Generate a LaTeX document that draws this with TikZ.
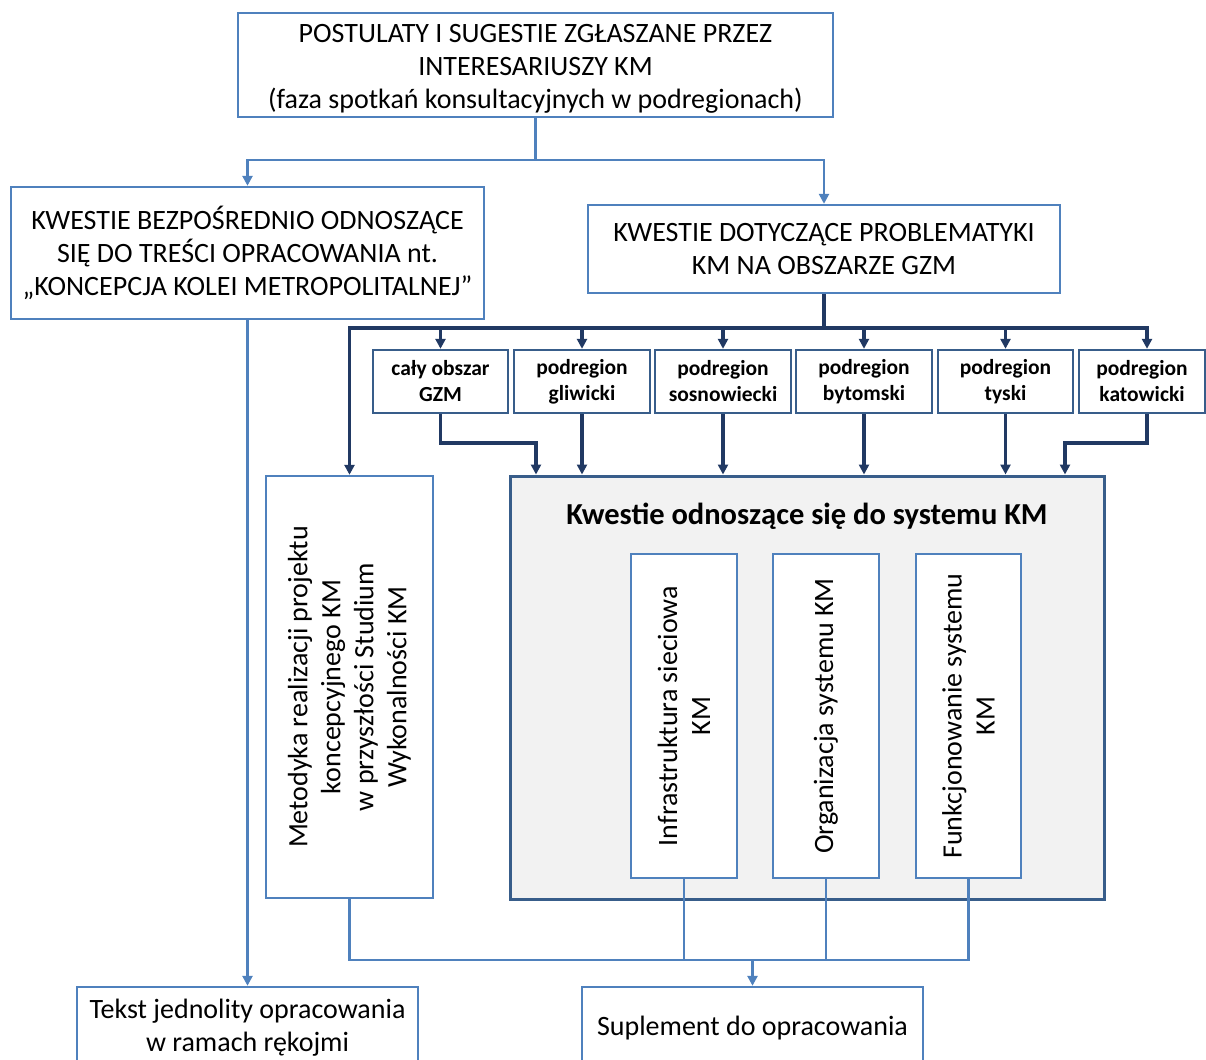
\documentclass[tikz,border=0pt]{standalone}
\usepackage{fontspec}
\setmainfont{Carlito}
\usetikzlibrary{arrows.meta,calc}
\definecolor{lineblue}{RGB}{79,129,189}
\definecolor{navy}{RGB}{33,57,99}
\definecolor{frameblue}{RGB}{56,93,138}
\definecolor{panelgray}{RGB}{242,242,242}
\tikzset{
  x=1pt, y=-1pt,
  mainbox/.style={draw=lineblue, line width=2.4pt, fill=white, inner sep=0pt, align=center,
    font=\fontsize{28}{33}\selectfont},
  regbox/.style={draw=frameblue, line width=2.4pt, fill=white, inner sep=0pt, align=center,
    minimum height=63pt, font=\bfseries\fontsize{21.5}{26}\selectfont},
  vbox/.style={mainbox, rotate=90},
  lightline/.style={draw=lineblue, line width=2.6pt},
  darkline/.style={draw=navy, line width=3.2pt},
  tip/.style={-{Triangle[length=10pt,width=10pt]}},
}
\begin{document}
\begin{tikzpicture}
\useasboundingbox (0,0) rectangle (1206,1059);
\clip (0,0) rectangle (1206,1059);

% upper level
\node[mainbox, minimum width=595pt, minimum height=104pt] (top) at (535.5,65)
  {\rule{0pt}{26pt}POSTULATY I SUGESTIE ZGŁASZANE PRZEZ\\INTERESARIUSZY KM\\(faza spotkań konsultacyjnych w podregionach)};
\node[mainbox, minimum width=473pt, minimum height=132pt] (direct) at (247.5,253)
  {KWESTIE BEZPOŚREDNIO ODNOSZĄCE\\SIĘ DO TREŚCI OPRACOWANIA nt.\\„KONCEPCJA KOLEI METROPOLITALNEJ”};
\node[mainbox, minimum width=472pt, minimum height=88pt] (area) at (824,249)
  {KWESTIE DOTYCZĄCE PROBLEMATYKI\\KM NA OBSZARZE GZM};

% subregions
\node[regbox, minimum width=135pt] (r1) at (440.5,381.5) {cały obszar\\GZM};
\node[regbox, minimum width=136pt] (r2) at (582,381.5) {podregion\\gliwicki};
\node[regbox, minimum width=136pt] (r3) at (723,381.5) {podregion\\sosnowiecki};
\node[regbox, minimum width=136pt] (r4) at (864,381.5) {podregion\\bytomski};
\node[regbox, minimum width=135pt] (r5) at (1005.5,381.5) {podregion\\tyski};
\node[regbox, minimum width=126pt] (r6) at (1142,381.5) {podregion\\katowicki};

% method box and system panel
\node[vbox, minimum width=422pt, minimum height=167pt] (method) at (349.5,687)
  {Metodyka realizacji projektu\\koncepcyjnego KM\\w przyszłości Studium\\Wykonalności KM};
\node[draw=frameblue, line width=3pt, fill=panelgray, minimum width=594pt, minimum height=423pt, inner sep=0pt]
  (panel) at (807,687.5) {};
\node[font=\bfseries\fontsize{30.5}{34}\selectfont] (ptitle) at (807,516) {Kwestie odnoszące się do systemu KM};
\node[vbox, minimum width=324pt, minimum height=106pt] (infra) at (684,716) {Infrastruktura sieciowa\\KM};
\node[vbox, minimum width=324pt, minimum height=106pt] (org) at (826,716) {Organizacja systemu KM};
\node[vbox, minimum width=324pt, minimum height=105pt] (func) at (968.5,716) {Funkcjonowanie systemu\\KM};

% results
\node[mainbox, minimum width=341pt, minimum height=82pt] (text) at (247.5,1028)
  {Tekst jednolity opracowania\\w ramach rękojmi};
\node[mainbox, minimum width=341pt, minimum height=82pt] (supp) at (752.5,1028)
  {Suplement do opracowania};

% split below the top box
\coordinate (split) at (top.south |- 0,160);
\draw[lightline] (top.south) -- (split);
\draw[lightline, tip] (split) -| (direct.north);
\draw[lightline, tip] (split) -| (area.north);

% distribution to subregions
\coordinate (hub) at (area.south |- 0,328);
\draw[darkline] (area.south) -- (hub);
\draw[darkline, tip] (hub) -| (method.east);
\draw[darkline, tip] (hub) -| (r1.north);
\draw[darkline, tip] (hub) -| (r2.north);
\draw[darkline, tip] (hub) -| (r3.north);
\draw[darkline, tip] (hub) -| (r4.north);
\draw[darkline, tip] (hub) -| (r5.north);
\draw[darkline, tip] (hub) -| ([xshift=5pt]r6.north);

% subregions into the system panel
\coordinate (k1) at (536,443);
\coordinate (k6) at (1065,443);
\draw[darkline, tip] (r1.south) |- (k1) -- (k1 |- panel.north);
\draw[darkline, tip] (r2.south) -- (r2.south |- panel.north);
\draw[darkline, tip] (r3.south) -- (r3.south |- panel.north);
\draw[darkline, tip] (r4.south) -- (r4.south |- panel.north);
\draw[darkline, tip] (r5.south) -- (r5.south |- panel.north);
\draw[darkline, tip] ([xshift=5pt]r6.south) |- (k6) -- (k6 |- panel.north);

% left branch straight to the uniform text
\draw[lightline, tip] (direct.south) -- (text.north);

% collection into the supplement
\coordinate (merge) at (supp.north |- 0,960);
\draw[lightline] (method.west) |- (func.west |- merge) -- (func.west);
\draw[lightline] (infra.west) -- (infra.west |- merge);
\draw[lightline] (org.west) -- (org.west |- merge);
\draw[lightline, tip] (merge) -- (supp.north);
\end{tikzpicture}
\end{document}
